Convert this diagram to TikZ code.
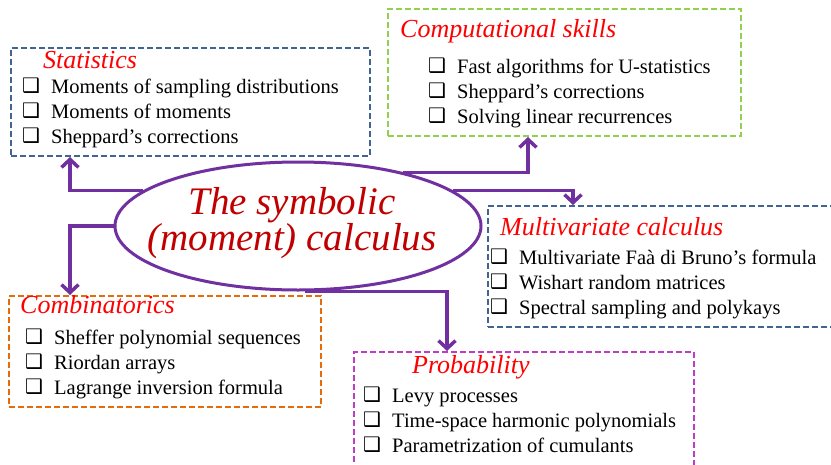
\documentclass[tikz,border=0pt]{standalone}
\usepackage{fontspec}
\setmainfont{Liberation Serif}
\newfontfamily\symfont{DejaVu Sans}
\usetikzlibrary{shapes.geometric,arrows.meta}

\definecolor{linkpurple}{RGB}{112,48,160}
\definecolor{titlered}{RGB}{255,0,0}
\definecolor{corered}{RGB}{192,0,0}
\definecolor{statblue}{RGB}{65,100,145}
\definecolor{compgreen}{RGB}{146,208,80}
\definecolor{comborange}{RGB}{228,108,10}
\definecolor{probviolet}{RGB}{190,60,200}

\newcommand{\chk}{\makebox[29pt][l]{\raisebox{1pt}{\symfont\fontsize{20}{20}\selectfont ❑}}}

\tikzset{
  topicbox/.style={draw=#1, line width=2pt, dash pattern=on 6pt off 3pt,
    anchor=north west, inner sep=0pt},
  topictitle/.style={anchor=base west, inner sep=0pt, text=titlered,
    font=\fontsize{26}{26}\selectfont\itshape},
  topicitem/.style={anchor=base west, inner sep=0pt,
    font=\fontsize{20.5}{25}\selectfont},
  link/.style={draw=linkpurple, line width=3.5pt,
    -{Straight Barb[length=8pt,width=17pt]}},
}

\begin{document}
\begin{tikzpicture}[x=1pt,y=-1pt]
  \useasboundingbox (0,0) rectangle (831,464);
  % central ellipse
  \node[ellipse, draw=linkpurple, line width=3pt, minimum width=366pt,
    minimum height=128pt, inner sep=0pt] (core) at (298,226) {};
  \node[align=center, text=corered, inner sep=0pt,
    font=\fontsize{39}{31}\selectfont\itshape] (core-t) at (292,223)
    {The symbolic\\(moment) calculus};
  % statistics
  \node[topicbox=statblue, minimum width=359pt, minimum height=108pt] (stat) at (10,47) {};
  \node[topictitle] (stat-t) at (43,68) {Statistics};
  \foreach \txt [count=\i] in {Moments of sampling distributions,
      Moments of moments, Sheppard’s corrections}
    \node[topicitem] (stat-\i) at (22,68+25*\i) {\chk\txt};
  % computational skills
  \node[topicbox=compgreen, minimum width=353pt, minimum height=127pt] (comp) at (387,8) {};
  \node[topictitle] (comp-t) at (400,37) {Computational skills};
  \foreach \txt [count=\i] in {Fast algorithms for U-statistics,
      Sheppard’s corrections, Solving linear recurrences}
    \node[topicitem] (comp-\i) at (428,48+25*\i) {\chk\txt};
  % multivariate calculus
  \node[topicbox=statblue, minimum width=352pt, minimum height=121pt] (multi) at (487,205) {};
  \node[topictitle] (multi-t) at (500,235) {Multivariate calculus};
  \foreach \txt [count=\i] in {Multivariate Faà di Bruno’s formula,
      Wishart random matrices, Spectral sampling and polykays}
    \node[topicitem] (multi-\i) at (490,239+25*\i) {\chk\txt};
  % combinatorics
  \node[topicbox=comborange, minimum width=312pt, minimum height=111pt] (comb) at (8,295) {};
  \node[topictitle] (comb-t) at (20,313) {Combinatorics};
  \foreach \txt [count=\i] in {Sheffer polynomial sequences,
      Riordan arrays, Lagrange inversion formula}
    \node[topicitem] (comb-\i) at (25,319+25*\i) {\chk\txt};
  % probability
  \node[topicbox=probviolet, minimum width=340pt, minimum height=125pt] (prob) at (353,351) {};
  \node[topictitle] (prob-t) at (412,373) {Probability};
  \foreach \txt [count=\i] in {Levy processes,
      Time-space harmonic polynomials, Parametrization of cumulants}
    \node[topicitem] (prob-\i) at (363,377+25*\i) {\chk\txt};
  % links from the core
  \draw[link] (core.167) -| ([xshift=60pt]stat.south west);
  \draw[link] (core.west) -| ([xshift=62pt]comb.north west);
  \draw[link] (core.27) -| ([xshift=141pt]comp.south west);
  \draw[link] (core.13) -| ([xshift=86pt]multi.north west);
  \draw[link] (core.-84) -| ([xshift=94pt]prob.north west);
\end{tikzpicture}
\end{document}
